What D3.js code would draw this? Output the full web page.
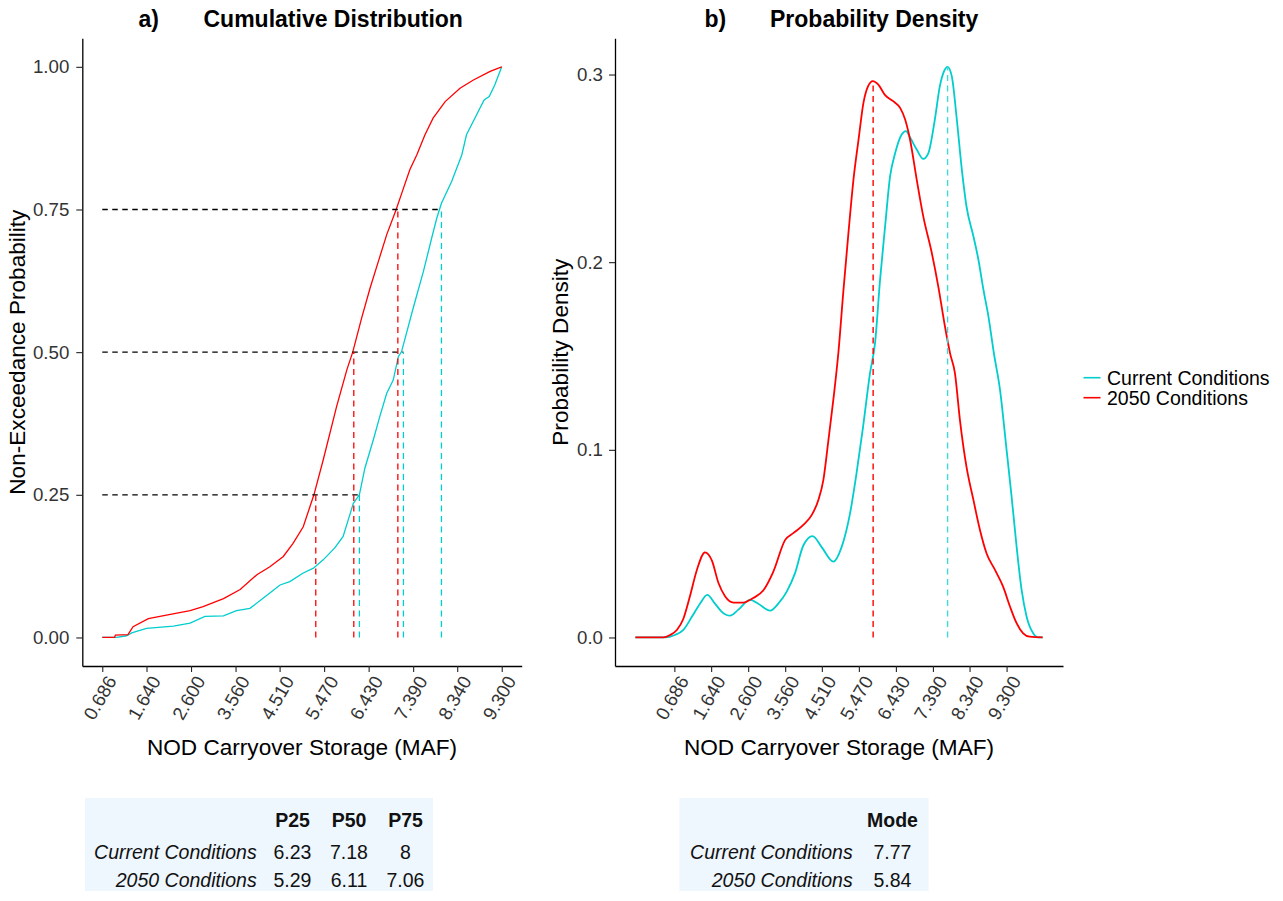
<!DOCTYPE html>
<html><head><meta charset="utf-8">
<script src="https://cdn.jsdelivr.net/npm/d3@7"></script>
<style>body{margin:0;background:#fff;} svg{display:block;}</style>
</head><body>
<svg id="chart"></svg>
<script>
// ---------------- DATA ----------------
const xTickLabels = ["0.686","1.640","2.600","3.560","4.510","5.470","6.430","7.390","8.340","9.300"];
const yTicksCdf = [0, 0.25, 0.5, 0.75, 1];
const yTicksDens = [0, 0.1, 0.2, 0.3];
const seriesNames = ["Current Conditions", "2050 Conditions"];

// Empirical cumulative distribution (x = storage MAF, p = non-exceedance)
const cdfCurrentX = [0.686,1.0,1.21,1.32,1.64,2.22,2.58,2.90,3.30,3.58,3.87,4.16,4.52,4.73,5.02,5.24,5.45,5.70,5.88,5.99,6.10,6.23,6.35,6.53,6.67,6.82,6.96,7.07,7.14,7.39,7.61,7.79,7.90,8.00,8.22,8.44,8.54,8.72,8.92,9.03,9.15,9.3];
const cdfCurrentP = [0,0,0.003,0.008,0.016,0.020,0.025,0.037,0.038,0.047,0.051,0.069,0.092,0.098,0.113,0.1215,0.136,0.157,0.177,0.206,0.235,0.25,0.297,0.346,0.387,0.428,0.451,0.492,0.501,0.577,0.641,0.700,0.735,0.761,0.799,0.846,0.881,0.910,0.942,0.948,0.968,1.0];
const cdf2050X = [0.686,0.95,0.97,1.24,1.35,1.68,2.07,2.58,2.86,3.30,3.66,4.02,4.30,4.59,4.80,5.02,5.165,5.25,5.45,5.74,5.96,6.09,6.28,6.46,6.64,6.82,7.02,7.18,7.32,7.47,7.645,7.82,8.08,8.40,8.69,9.05,9.3];
const cdf2050P = [0,0,0.004,0.005,0.019,0.033,0.039,0.047,0.054,0.068,0.084,0.110,0.124,0.142,0.165,0.194,0.2295,0.25,0.311,0.405,0.469,0.501,0.560,0.612,0.659,0.706,0.749,0.787,0.820,0.846,0.881,0.910,0.939,0.9625,0.977,0.992,1.0];

// Kernel density estimates
const densCurrentX = [-0.325,0.445,0.70,0.92,1.14,1.35,1.54,1.74,1.91,2.13,2.34,2.65,2.86,3.17,3.38,3.60,3.81,4.03,4.27,4.51,4.81,5.02,5.24,5.41,5.58,5.76,5.89,6.02,6.15,6.28,6.41,6.58,6.69,6.81,6.97,7.14,7.27,7.44,7.57,7.68,7.77,7.88,8.01,8.14,8.26,8.44,8.57,8.70,8.83,8.97,9.13,9.30,9.43,9.56,9.69,9.82,9.99,10.12,10.235];
const densCurrentY = [0,0,0.0013,0.004,0.011,0.018,0.0227,0.018,0.0138,0.0116,0.0147,0.020,0.018,0.0143,0.018,0.0244,0.034,0.049,0.054,0.048,0.0404,0.048,0.066,0.0876,0.1124,0.141,0.157,0.1907,0.219,0.2458,0.258,0.268,0.2698,0.266,0.26,0.255,0.258,0.276,0.2938,0.3018,0.3041,0.299,0.276,0.2493,0.2298,0.2138,0.2013,0.1853,0.171,0.1516,0.132,0.100,0.0751,0.0484,0.0253,0.011,0.0022,0,0];
const dens2050X = [-0.325,0.40,0.575,0.75,0.92,1.09,1.27,1.48,1.66,1.83,2.00,2.22,2.47,2.73,2.99,3.25,3.56,3.77,4.03,4.25,4.42,4.55,4.68,4.81,4.94,5.07,5.20,5.33,5.46,5.59,5.71,5.83,5.97,6.15,6.36,6.54,6.67,6.80,6.97,7.14,7.36,7.53,7.70,7.84,7.96,8.09,8.26,8.44,8.61,8.78,9.00,9.21,9.39,9.56,9.73,9.90,10.235];
const dens2050Y = [0,0,0.0013,0.004,0.010,0.022,0.036,0.0454,0.041,0.029,0.022,0.0186,0.0186,0.021,0.025,0.035,0.052,0.0556,0.060,0.0653,0.0733,0.084,0.105,0.127,0.152,0.185,0.2156,0.244,0.265,0.285,0.2938,0.2965,0.2947,0.289,0.2858,0.2822,0.276,0.265,0.244,0.2244,0.205,0.187,0.166,0.151,0.141,0.116,0.091,0.0733,0.0573,0.0449,0.036,0.0271,0.0164,0.0076,0.0022,0.0004,0];

// Summary statistics
const quantLevels = [0.25, 0.5, 0.75];
const quantLabels = ["P25", "P50", "P75"];
const quantCurrent = [6.23, 7.18, 8];
const quant2050 = [5.29, 6.11, 7.06];
const modeLabel = "Mode";
const modeCurrent = 7.77;
const mode2050 = 5.84;

// ---------------- STYLE ----------------
const FONT = '"Liberation Sans", Arial, Helvetica, sans-serif';
const COL_CUR = "#00CDCD";
const COL_2050 = "#FF0000";
const TICK_FS = 18.7, TITLE_FS = 23, AXT_FS = 22.6, LEG_FS = 19.5;

const W = 1283, H = 901;
const svg = d3.select("#chart").attr("width", W).attr("height", H)
  .style("font-family", FONT);

const xTickVals = xTickLabels.map(Number);
const zip = (a, b) => a.map((v, i) => [v, b[i]]);

function expand(ext, f) { const r = ext[1] - ext[0]; return [ext[0] - f * r, ext[1] + f * r]; }

const plotTop = 38.3, plotBottom = 666;

// ---------------- PANEL A ----------------
const xA = d3.scaleLinear()
  .domain(expand(d3.extent(cdfCurrentX.concat(cdf2050X)), 0.05))
  .range([82.3, 521.7]);
const yA = d3.scaleLinear().domain(expand([0, 1], 0.05)).range([plotBottom, plotTop]);

// ---------------- PANEL B ----------------
const xB = d3.scaleLinear()
  .domain(expand(d3.extent(densCurrentX.concat(dens2050X)), 0.05))
  .range([615, 1063]);
const yB = d3.scaleLinear()
  .domain(expand([0, d3.max(densCurrentY.concat(dens2050Y))], 0.05))
  .range([plotBottom, plotTop]);

function styleXAxis(g) {
  g.select(".domain").attr("stroke", "#000").attr("stroke-width", 1.3);
  g.selectAll(".tick line").attr("stroke", "#222").attr("stroke-width", 1.1);
  g.selectAll(".tick text")
    .attr("x", 0).attr("y", 0).attr("dy", "0.71em")
    .attr("transform", "translate(3,8) rotate(-60)")
    .attr("text-anchor", "end")
    .attr("font-size", TICK_FS).attr("font-family", FONT).attr("fill", "#333");
}
function styleYAxis(g) {
  g.select(".domain").attr("stroke", "#000").attr("stroke-width", 1.3);
  g.selectAll(".tick line").attr("stroke", "#222").attr("stroke-width", 1.1);
  g.selectAll(".tick text").attr("font-size", TICK_FS).attr("font-family", FONT).attr("fill", "#333");
}

// axes A
svg.append("g").attr("transform", `translate(0,${plotBottom})`)
  .call(d3.axisBottom(xA).tickValues(xTickVals).tickFormat((d, i) => xTickLabels[i]).tickSize(6).tickSizeOuter(0))
  .call(styleXAxis);
svg.append("g").attr("transform", `translate(${xA.range()[0]},0)`)
  .call(d3.axisLeft(yA).tickValues(yTicksCdf).tickFormat(d3.format(".2f")).tickSize(6).tickPadding(7).tickSizeOuter(0))
  .call(styleYAxis);

// axes B
svg.append("g").attr("transform", `translate(0,${plotBottom})`)
  .call(d3.axisBottom(xB).tickValues(xTickVals).tickFormat((d, i) => xTickLabels[i]).tickSize(6).tickSizeOuter(0))
  .call(styleXAxis);
svg.append("g").attr("transform", `translate(${xB.range()[0]},0)`)
  .call(d3.axisLeft(yB).tickValues(yTicksDens).tickFormat(d3.format(".1f")).tickSize(6).tickPadding(6).tickSizeOuter(0))
  .call(styleYAxis);

// curves A
const lineA = d3.line().x(d => xA(d[0])).y(d => yA(d[1]));
svg.append("path").attr("d", lineA(zip(cdfCurrentX, cdfCurrentP)))
  .attr("fill", "none").attr("stroke", COL_CUR).attr("stroke-width", 1.3);
svg.append("path").attr("d", lineA(zip(cdf2050X, cdf2050P)))
  .attr("fill", "none").attr("stroke", COL_2050).attr("stroke-width", 1.3);

// quantile guide lines
const x0 = d3.min(cdfCurrentX.concat(cdf2050X));
quantLevels.forEach((lv, i) => {
  svg.append("line")
    .attr("x1", xA(x0)).attr("x2", xA(quantCurrent[i]))
    .attr("y1", yA(lv)).attr("y2", yA(lv))
    .attr("stroke", "#000").attr("stroke-width", 1.3).attr("stroke-dasharray", "5.5,4.5");
});
quantLevels.forEach((lv, i) => {
  svg.append("line")
    .attr("x1", xA(quant2050[i])).attr("x2", xA(quant2050[i]))
    .attr("y1", yA(0)).attr("y2", yA(lv))
    .attr("stroke", COL_2050).attr("stroke-width", 1.3).attr("stroke-dasharray", "6,4.5");
  svg.append("line")
    .attr("x1", xA(quantCurrent[i])).attr("x2", xA(quantCurrent[i]))
    .attr("y1", yA(0)).attr("y2", yA(lv))
    .attr("stroke", COL_CUR).attr("stroke-width", 1.3).attr("stroke-dasharray", "6,4.5");
});

// curves B
const lineB = d3.line().x(d => xB(d[0])).y(d => yB(d[1])).curve(d3.curveMonotoneX);
svg.append("path").attr("d", lineB(zip(densCurrentX, densCurrentY)))
  .attr("fill", "none").attr("stroke", COL_CUR).attr("stroke-width", 1.8);
svg.append("path").attr("d", lineB(zip(dens2050X, dens2050Y)))
  .attr("fill", "none").attr("stroke", COL_2050).attr("stroke-width", 1.8);

// mode lines
function interp(xs, ys, x) {
  const i = d3.bisectLeft(xs, x);
  if (i <= 0) return ys[0];
  if (i >= xs.length) return ys[ys.length - 1];
  const t = (x - xs[i - 1]) / (xs[i] - xs[i - 1]);
  return ys[i - 1] + t * (ys[i] - ys[i - 1]);
}
[[mode2050, dens2050X, dens2050Y, COL_2050], [modeCurrent, densCurrentX, densCurrentY, "#40D8D8"]].forEach(([m, xs, ys, c]) => {
  svg.append("line")
    .attr("x1", xB(m)).attr("x2", xB(m))
    .attr("y1", yB(0)).attr("y2", yB(interp(xs, ys, m)))
    .attr("stroke", c).attr("stroke-width", 1.4).attr("stroke-dasharray", "6,4.5");
});

// titles
function title(xLab, xText, lab, txt) {
  svg.append("text").attr("x", xLab).attr("y", 26.5).attr("font-size", TITLE_FS)
    .attr("font-weight", "bold").attr("fill", "#000").text(lab);
  svg.append("text").attr("x", xText).attr("y", 26.5).attr("font-size", TITLE_FS)
    .attr("font-weight", "bold").attr("fill", "#000").text(txt);
}
title(138.5, 203.5, "a)", "Cumulative Distribution");
title(704.5, 770, "b)", "Probability Density");

// axis titles
const midA = (xA.range()[0] + xA.range()[1]) / 2;
const midB = (xB.range()[0] + xB.range()[1]) / 2;
const midY = (plotTop + plotBottom) / 2;
svg.append("text").attr("x", midA).attr("y", 755).attr("text-anchor", "middle")
  .attr("font-size", AXT_FS).text("NOD Carryover Storage (MAF)");
svg.append("text").attr("x", midB).attr("y", 755).attr("text-anchor", "middle")
  .attr("font-size", AXT_FS).text("NOD Carryover Storage (MAF)");
svg.append("text").attr("transform", `translate(24.5,${midY}) rotate(-90)`).attr("text-anchor", "middle")
  .attr("font-size", AXT_FS).text("Non-Exceedance Probability");
svg.append("text").attr("transform", `translate(567.5,${midY}) rotate(-90)`).attr("text-anchor", "middle")
  .attr("font-size", AXT_FS).text("Probability Density");

// legend
const legCols = [COL_CUR, COL_2050];
seriesNames.forEach((n, i) => {
  const y = 377.7 + i * 20;
  svg.append("line").attr("x1", 1083.5).attr("x2", 1100.5).attr("y1", y).attr("y2", y)
    .attr("stroke", legCols[i]).attr("stroke-width", 1.6);
  svg.append("text").attr("x", 1107).attr("y", y).attr("dy", "0.35em")
    .attr("font-size", LEG_FS).attr("fill", "#000").text(n);
});

// tables
const rowY = [820, 851.7, 880];
function table(x0, x1, labelRight, colCenters, headers, rows) {
  svg.append("rect").attr("x", x0).attr("y", 798).attr("width", x1 - x0).attr("height", 93)
    .attr("fill", "#EEF6FE");
  headers.forEach((h, j) => {
    svg.append("text").attr("x", colCenters[j]).attr("y", rowY[0]).attr("dy", "0.35em")
      .attr("text-anchor", "middle").attr("font-weight", "bold").attr("font-size", LEG_FS)
      .attr("fill", "#111").text(h);
  });
  rows.forEach((r, i) => {
    svg.append("text").attr("x", labelRight).attr("y", rowY[i + 1]).attr("dy", "0.35em")
      .attr("text-anchor", "end").attr("font-style", "italic").attr("font-size", LEG_FS)
      .attr("fill", "#111").text(seriesNames[i]);
    r.forEach((v, j) => {
      svg.append("text").attr("x", colCenters[j]).attr("y", rowY[i + 1]).attr("dy", "0.35em")
        .attr("text-anchor", "middle").attr("font-size", LEG_FS).attr("fill", "#111").text(String(v));
    });
  });
}
table(85, 433, 256.7, [292.5, 349, 405.5], quantLabels, [quantCurrent, quant2050]);
table(679.5, 928.5, 852.7, [892.5], [modeLabel], [[modeCurrent], [mode2050]]);
</script>
</body></html>
